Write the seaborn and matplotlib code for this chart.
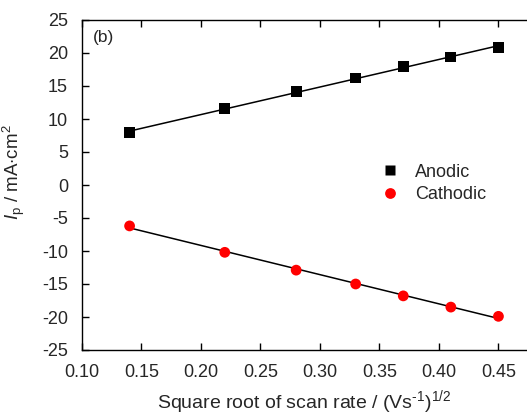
import numpy as np
import pandas as pd
import matplotlib
matplotlib.use("Agg")
import matplotlib.pyplot as plt
import seaborn as sns

sns.set_theme(style="ticks")
plt.rcParams['font.family'] = ['Liberation Sans', 'DejaVu Sans']
plt.rcParams['mathtext.fontset'] = 'custom'
plt.rcParams['mathtext.rm'] = 'Liberation Sans'
plt.rcParams['mathtext.it'] = 'Liberation Sans:italic'
plt.rcParams['axes.unicode_minus'] = False

# square root of scan rate, (V/s)^1/2
sqrt_scan = [0.14, 0.22, 0.28, 0.33, 0.37, 0.41, 0.45]
# peak currents, mA cm^-2
anodic = [7.9, 11.6, 14.2, 16.2, 18.0, 19.4, 20.8]
cathodic = [-6.2, -10.2, -12.9, -15.0, -16.8, -18.5, -19.9]

xticks = [0.10, 0.15, 0.20, 0.25, 0.30, 0.35, 0.40, 0.45]
yticks = [-25, -20, -15, -10, -5, 0, 5, 10, 15, 20, 25]

df = pd.DataFrame({
    "x": sqrt_scan * 2,
    "Ip": anodic + cathodic,
    "peak": ["Anodic"] * len(anodic) + ["Cathodic"] * len(cathodic),
})

fig = plt.figure(figsize=(5.27, 4.15), dpi=100)
ax = fig.add_axes([82 / 527, 65 / 415, 445 / 527, 330 / 415])

# linear fits through each branch
for name in ["Anodic", "Cathodic"]:
    sub = df[df["peak"] == name]
    sns.regplot(data=sub, x="x", y="Ip", ax=ax, scatter=False, ci=None,
                color="black", line_kws={"lw": 1.1})

sns.scatterplot(data=df, x="x", y="Ip", hue="peak", style="peak",
                palette={"Anodic": "black", "Cathodic": "#ff0000"},
                markers={"Anodic": "s", "Cathodic": "o"},
                s=60, edgecolor="none", ax=ax, zorder=3)

ax.set_xlim(0.10, 0.474)
ax.set_ylim(-25, 25)
ax.set_xticks(xticks)
ax.set_xticklabels([f"{t:.2f}" for t in xticks])
ax.set_yticks(yticks)
ax.tick_params(direction="in", length=5, width=1, labelsize=13, color="black",
               top=True, right=False)
ax.tick_params(axis="y", pad=10)
ax.tick_params(axis="x", pad=10)
for side in ["left", "bottom", "top"]:
    ax.spines[side].set_linewidth(1.0)
    ax.spines[side].set_color("black")
ax.spines["right"].set_visible(False)

ax.set_xlabel(r"Square root of scan rate / (Vs$^{\text{-}1}$)$^{1/2}$", fontsize=14, labelpad=5)
ax.set_ylabel(r"$\it{I}_{\rm p}$ / mA$\cdot$cm$^{2}$", fontsize=13.5)
ax.yaxis.set_label_coords(-0.124, 0.54)

ax.text(0.025, 0.97, "(b)", transform=ax.transAxes, fontsize=12.5, va="top", ha="left")

leg = ax.legend(title=None, frameon=False, fontsize=13, loc="center left",
                bbox_to_anchor=(0.615, 0.505), handletextpad=0.4, labelspacing=0.3,
                markerscale=1.0)

fig.savefig("out.png", dpi=100)
